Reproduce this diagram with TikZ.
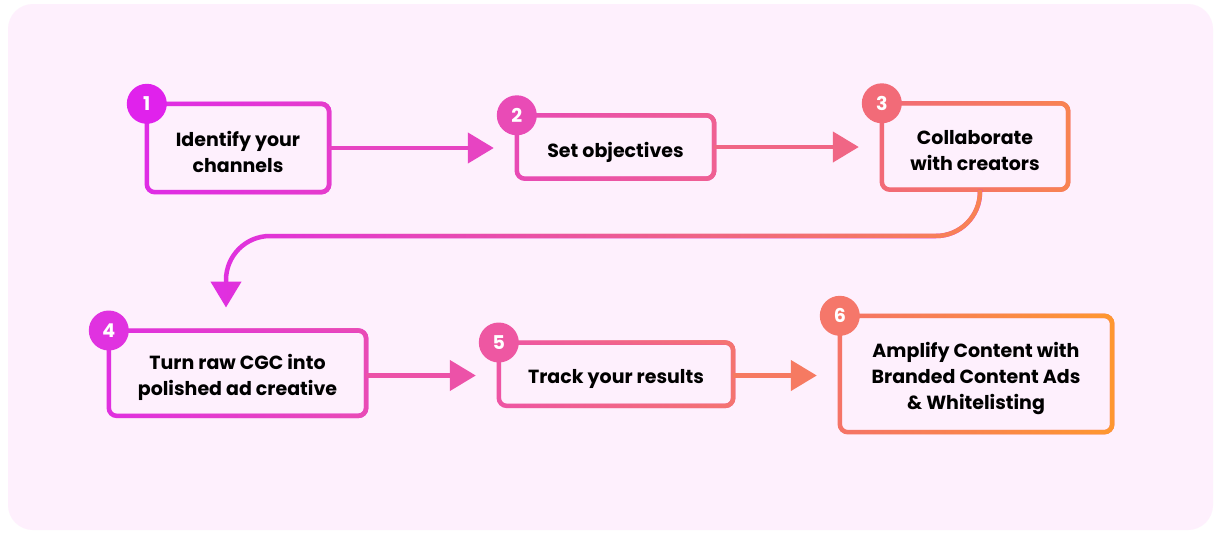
\documentclass[tikz,border=0pt]{standalone}
\usepackage{fontspec}
\setmainfont{Poppins}
\usetikzlibrary{arrows.meta,fadings,calc}
\definecolor{bgpink}{HTML}{FEF0FD}
\definecolor{aL}{HTML}{DF2CE6}\definecolor{aR}{HTML}{E63DCC}
\definecolor{bL}{HTML}{E84AB5}\definecolor{bR}{HTML}{F06192}
\definecolor{cL}{HTML}{F26A78}\definecolor{cR}{HTML}{F98452}
\definecolor{dL}{HTML}{E030E0}\definecolor{dR}{HTML}{EA4CB5}
\definecolor{eL}{HTML}{EE55A5}\definecolor{eR}{HTML}{F57570}
\definecolor{fL}{HTML}{F57468}\definecolor{fR}{HTML}{FF9830}
\definecolor{n1}{HTML}{E022EC}\definecolor{n2}{HTML}{E94BB6}
\definecolor{n3}{HTML}{F26B78}\definecolor{n4}{HTML}{E032E0}
\definecolor{n5}{HTML}{EE57A2}\definecolor{n6}{HTML}{F5776A}
\definecolor{ar1}{HTML}{E744C2}\definecolor{ar2}{HTML}{F06685}
\definecolor{ar4}{HTML}{EC52A8}\definecolor{ar5}{HTML}{F67A62}
\tikzfading[name=lr, left color=transparent!100, right color=transparent!0]
\newcommand\gbox[3]{%
  \draw[bd,#2] (#1.north west) rectangle (#1.south east);
  \draw[bd,#3,path fading=lr] (#1.north west) rectangle (#1.south east);}
\begin{document}
\begin{tikzpicture}[x=1pt,y=-1pt,
  box/.style={inner sep=0pt},
  txt/.style={inner sep=0pt, align=center, font=\fontsize{19}{26}\selectfont\bfseries, text=black},
  bd/.style={line width=4.5pt, rounded corners=8pt},
  num/.style={circle, minimum size=40pt, inner sep=0pt, text=white, font=\fontsize{19}{20}\selectfont\bfseries},
  arr/.style={line width=4.5pt, -{Triangle[length=26pt,width=30pt]}, shorten >=23pt}]
\fill[white] (0,0) rectangle (1218,533);
\fill[bgpink, rounded corners=25pt] (8,4) rectangle (1213,530);
% boxes
\node[box, minimum width=182pt, minimum height=88pt] (b1) at (238,148) {};
\node[box, minimum width=197pt, minimum height=63pt] (b2) at (615.5,147) {};
\node[box, minimum width=186pt, minimum height=86pt] (b3) at (975,146.5) {};
\node[box, minimum width=257pt, minimum height=85pt] (b4) at (237.5,373.2) {};
\node[box, minimum width=234pt, minimum height=63pt] (b5) at (616,374.2) {};
\node[box, minimum width=272pt, minimum height=116pt] (b6) at (976,374) {};
\gbox{b1}{aL}{aR}
\gbox{b2}{bL}{bR}
\gbox{b3}{cL}{cR}
\gbox{b4}{dL}{dR}
\gbox{b5}{eL}{eR}
\gbox{b6}{fL}{fR}
\node[txt] (t1) at ([yshift=-4pt]b1.center) {Identify your\\channels};
\node[txt] (t2) at ([yshift=-5pt]b2.center) {Set objectives};
\node[txt] (t3) at ([yshift=-4pt]b3.center) {Collaborate\\with creators};
\node[txt] (t4) at ([yshift=-4pt]b4.center) {Turn raw CGC into\\polished ad creative};
\node[txt] (t5) at ([yshift=-5pt]b5.center) {Track your results};
\node[txt] (t6) at ([yshift=-4pt]b6.center) {Amplify Content with\\Branded Content Ads\\\& Whitelisting};
% arrows
\draw[arr, ar1] (b1.east) -- (b1.east -| b2.west);
\draw[arr, ar2] (b2.east) -- (b2.east -| b3.west);
\draw[arr, ar4] (b4.east |- 0,375.5) -- (b5.west |- 0,375.5);
\draw[arr, ar5] (b5.east |- 0,375.5) -- (b6.west |- 0,375.5);
\coordinate (top) at (980,0);
\coordinate (down) at (226,0);
\draw[arr, dL, rounded corners=44pt] (b3.south -| top) |- (down |- 0,236) -- (down |- b4.north);
\draw[arr, cR, rounded corners=44pt, path fading=lr] (b3.south -| top) |- (down |- 0,236) -- (down |- b4.north);
% numbers
\node[num, fill=n1] (c1) at (b1.north west) {1};
\node[num, fill=n2] (c2) at (b2.north west) {2};
\node[num, fill=n3] (c3) at (b3.north west) {3};
\node[num, fill=n4] (c4) at (b4.north west) {4};
\node[num, fill=n5] (c5) at (b5.north west) {5};
\node[num, fill=n6] (c6) at (b6.north west) {6};
\end{tikzpicture}
\end{document}
